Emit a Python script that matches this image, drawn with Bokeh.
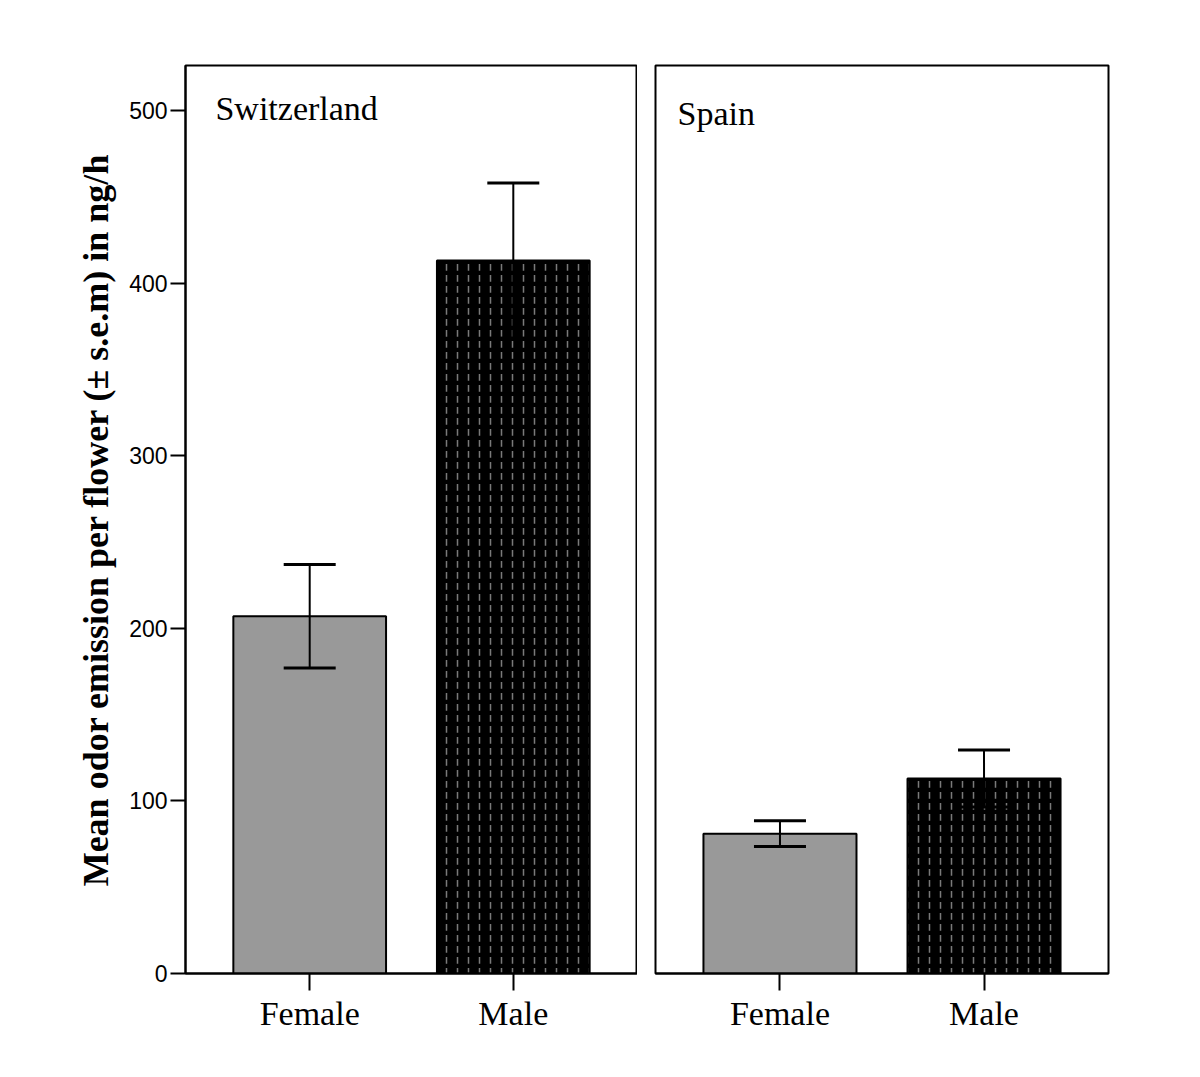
from bokeh.plotting import figure
from bokeh.models import (FactorRange, Range1d, Whisker, ColumnDataSource, Label,
                          TeeHead, FixedTicker)
from bokeh.layouts import row
from bokeh.embed import file_html
from bokeh.resources import INLINE

# ---- data ----
sexes = ["Female", "Male"]
panels = ["Switzerland", "Spain"]
swiss_mean = [207, 413]
swiss_sem = [30, 45]
spain_mean = [81, 113]
spain_sem = [7.5, 16.5]
y_ticks = [0, 100, 200, 300, 400, 500]
bar_colors = ["#999999", "#000000"]
bar_hatch = [" ", "vertical_dash"]

SERIF = "Liberation Serif"
SANS = "Liberation Sans"


def make_panel(name, means, sems, left, label_x, label_y):
    src = ColumnDataSource(dict(
        x=sexes, top=means,
        lower=[m - s for m, s in zip(means, sems)],
        upper=[m + s for m, s in zip(means, sems)],
        color=bar_colors, hatch=bar_hatch,
    ))
    p = figure(
        x_range=FactorRange(*sexes, range_padding=0.11, range_padding_units="absolute"),
        y_range=Range1d(0, 526),
        width=637 if left else 481, height=1068,
        output_backend="svg", toolbar_location=None,
        min_border_left=185 if left else 18,
        min_border_right=0 if left else 10,
        min_border_top=65, min_border_bottom=95,
        y_axis_location="left" if left else None,
    )
    p.outline_line_color = "black"
    p.outline_line_width = 2
    p.xgrid.visible = False
    p.ygrid.visible = False
    p.background_fill_color = "white"
    p.border_fill_color = "white"

    p.vbar(x="x", top="top", width=0.75, source=src, fill_color="color",
           line_color="black", line_width=2, hatch_pattern="hatch",
           hatch_color="#7a7a7a", hatch_scale=11, hatch_weight=1.5)

    p.add_layout(Whisker(source=src, base="x", lower="lower", upper="upper",
                         line_color="black", line_width=2, level="annotation",
                         upper_head=TeeHead(size=52, line_width=3, line_color="black"),
                         lower_head=TeeHead(size=52, line_width=3, line_color="black")))

    p.add_layout(Label(x=label_x, y=label_y, text=name, text_font=SERIF,
                       text_font_size="34px", text_color="black",
                       text_baseline="alphabetic", text_align="left"))

    xa = p.xaxis[0]
    xa.major_tick_out = 17
    xa.major_tick_in = 0
    xa.major_tick_line_width = 2
    xa.axis_line_width = 2
    xa.major_label_text_font = SERIF
    xa.major_label_text_font_size = "34px"
    xa.major_label_text_color = "black"
    xa.major_label_standoff = 4

    if left:
        ya = p.yaxis[0]
        ya.ticker = FixedTicker(ticks=y_ticks)
        ya.minor_tick_line_color = None
        ya.major_tick_out = 15
        ya.major_tick_in = 0
        ya.major_tick_line_width = 2
        ya.axis_line_width = 2
        ya.major_label_text_font = SANS
        ya.major_label_text_font_size = "23px"
        ya.major_label_text_color = "black"
        ya.major_label_standoff = 3
        ya.axis_label = "Mean odor emission per flower (\u00b1 s.e.m) in ng/h"
        ya.axis_label_text_font = SERIF
        ya.axis_label_text_font_style = "bold"
        ya.axis_label_text_font_size = "36px"
        ya.axis_label_text_color = "black"
        ya.axis_label_standoff = 10
    return p


p1 = make_panel(panels[0], swiss_mean, swiss_sem, True, 0.037, 501)
p2 = make_panel(panels[1], spain_mean, spain_sem, False, -0.002, 498)

layout = row(p1, p2, spacing=0)
open("out.html", "w").write(file_html(layout, INLINE))
